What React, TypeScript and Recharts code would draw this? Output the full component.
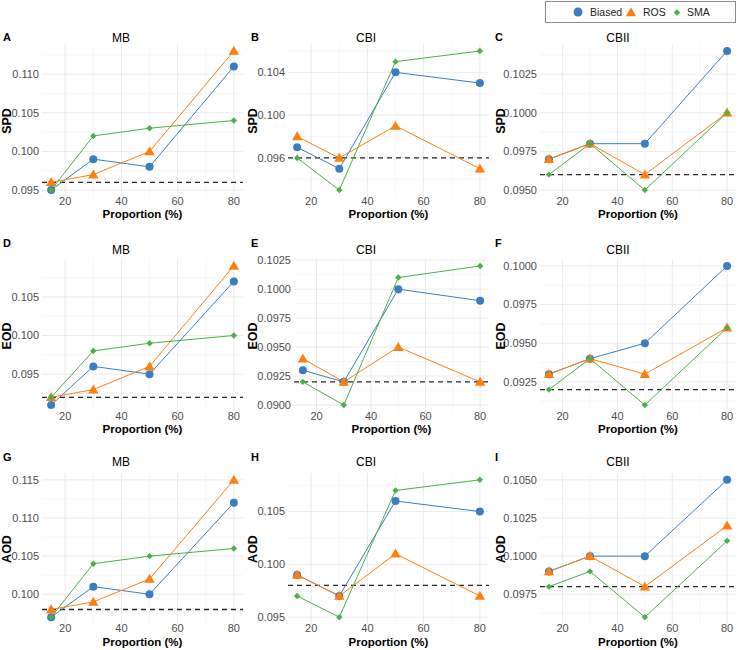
import React from "react";
import { CartesianGrid, Line, LineChart, ReferenceLine, XAxis, YAxis } from "recharts";

const proportions = [15, 30, 50, 80];
const datasets = ["MB", "CBI", "CBII"];
const metrics = ["SPD", "EOD", "AOD"];
const panelLetters = [
  ["A", "B", "C"],
  ["D", "E", "F"],
  ["G", "H", "I"],
];
const methods = ["Biased", "ROS", "SMA"];

// each array: one row per dataset (MB, CBI, CBII), one value per proportion
const spdBiased = [
  [0.095, 0.099, 0.098, 0.111],
  [0.097, 0.095, 0.104, 0.103],
  [0.097, 0.098, 0.098, 0.104],
];
const spdRos = [
  [0.096, 0.097, 0.1, 0.113],
  [0.098, 0.096, 0.099, 0.095],
  [0.097, 0.098, 0.096, 0.1],
];
const spdSma = [
  [0.095, 0.102, 0.103, 0.104],
  [0.096, 0.093, 0.105, 0.106],
  [0.096, 0.098, 0.095, 0.1],
];
const eodBiased = [
  [0.091, 0.096, 0.095, 0.107],
  [0.093, 0.092, 0.1, 0.099],
  [0.093, 0.094, 0.095, 0.1],
];
const eodRos = [
  [0.092, 0.093, 0.096, 0.109],
  [0.094, 0.092, 0.095, 0.092],
  [0.093, 0.094, 0.093, 0.096],
];
const eodSma = [
  [0.092, 0.098, 0.099, 0.1],
  [0.092, 0.09, 0.101, 0.102],
  [0.092, 0.094, 0.091, 0.096],
];
const aodBiased = [
  [0.097, 0.101, 0.1, 0.112],
  [0.099, 0.097, 0.106, 0.105],
  [0.099, 0.1, 0.1, 0.105],
];
const aodRos = [
  [0.098, 0.099, 0.102, 0.115],
  [0.099, 0.097, 0.101, 0.097],
  [0.099, 0.1, 0.098, 0.102],
];
const aodSma = [
  [0.097, 0.104, 0.105, 0.106],
  [0.097, 0.095, 0.107, 0.108],
  [0.098, 0.099, 0.096, 0.101],
];
const baselines = [0.096, 0.092, 0.098];

const spdTicks = [
  [0.095, 0.1, 0.105, 0.11],
  [0.096, 0.1, 0.104],
  [0.095, 0.0975, 0.1, 0.1025],
];
const eodTicks = [
  [0.095, 0.1, 0.105],
  [0.09, 0.0925, 0.095, 0.0975, 0.1, 0.1025],
  [0.0925, 0.095, 0.0975, 0.1],
];
const aodTicks = [
  [0.1, 0.105, 0.11, 0.115],
  [0.095, 0.1, 0.105],
  [0.0975, 0.1, 0.1025, 0.105],
];
const xTicks = [20, 40, 60, 80];

const metricSeries = [
  [spdBiased, spdRos, spdSma],
  [eodBiased, eodRos, eodSma],
  [aodBiased, aodRos, aodSma],
];
const metricTicks = [spdTicks, eodTicks, aodTicks];

const COLORS: Record<string, string> = { Biased: "#3A7EBF", ROS: "#FF7F0E", SMA: "#4DAF4A" };
const FONT = "'Liberation Sans', Arial, sans-serif";

// layout (px)
const colLeft = [0, 246, 492];
const colWidth = 246;
const plotRight = [243, 489, 736];
const rowTop = [0, 214, 428];
const rowHeight = 214;
const plotTop = [44, 259, 473];
const plotBottom = [197, 412, 624];
const letterX = [3, 251, 495];
const letterY = [37, 243, 457];
const titleX = [121, 366, 618];
const titleY = [38, 250, 462];
const yLabelX = [7, 253, 501];
const xLabelY = [215, 430, 643];
const X_DOMAIN = [11.75, 83.25];

function minorBreaks(ticks: number[], lo: number, hi: number) {
  const step = ticks[1] - ticks[0];
  const out: number[] = [];
  for (let i = -1; i < ticks.length; i++) {
    const m = ticks[0] + (i + 0.5) * step;
    if (m > lo && m < hi) out.push(m);
  }
  return out;
}

function shapePath(method: string, cx: number, cy: number) {
  if (method === "ROS") {
    return `M${cx},${cy - 5.2} L${cx + 5.2},${cy + 3.8} L${cx - 5.2},${cy + 3.8} Z`;
  }
  const d = 3.2;
  return `M${cx},${cy - d} L${cx + d},${cy} L${cx},${cy + d} L${cx - d},${cy} Z`;
}

function makeDot(method: string) {
  return (props: any) => {
    const { cx, cy, index } = props;
    const key = `${method}-${index}`;
    if (cx == null || cy == null) return <g key={key} />;
    if (method === "Biased") return <circle key={key} cx={cx} cy={cy} r={4} fill={COLORS.Biased} />;
    return <path key={key} d={shapePath(method, cx, cy)} fill={COLORS[method]} />;
  };
}

const abs = (x: number, y: number, extra: React.CSSProperties = {}): React.CSSProperties => ({
  position: "absolute",
  left: x,
  top: y,
  whiteSpace: "nowrap",
  lineHeight: 1,
  fontFamily: FONT,
  ...extra,
});

function Panel({ row, col }: { row: number; col: number }) {
  const [b, r, s] = metricSeries[row].map((m) => m[col]);
  const ticks = metricTicks[row][col];
  const baseline = baselines[row];
  const data = proportions.map((p, i) => ({ x: p, Biased: b[i], ROS: r[i], SMA: s[i] }));

  const vals = [...b, ...r, ...s, baseline];
  const lo = Math.min(...vals);
  const hi = Math.max(...vals);
  const pad = (hi - lo) * 0.05;
  const domain = [lo - pad, hi + pad];
  const digits = ticks.some((t) => Math.abs(Math.round(t * 1000) - t * 1000) > 1e-6) ? 4 : 3;

  const left = colLeft[col];
  const pLeft = left + (digits === 4 ? 48 : 42);
  const pRight = plotRight[col];
  const top = rowTop[row];
  const xAxisH = 12;

  return (
    <>
      <div style={{ position: "absolute", left, top }}>
        <LineChart
          width={colWidth}
          height={rowHeight}
          data={data}
          margin={{
            top: plotTop[row] - top,
            right: left + colWidth - pRight,
            bottom: top + rowHeight - plotBottom[row] - xAxisH,
            left: 0,
          }}
        >
          <CartesianGrid
            stroke="#F3F3F3"
            strokeWidth={0.7}
            horizontalValues={minorBreaks(ticks, domain[0], domain[1])}
            verticalValues={minorBreaks(xTicks, X_DOMAIN[0], X_DOMAIN[1])}
          />
          <CartesianGrid stroke="#EBEBEB" strokeWidth={1} horizontalValues={ticks} verticalValues={xTicks} />
          <XAxis
            type="number"
            dataKey="x"
            domain={X_DOMAIN}
            ticks={xTicks}
            allowDataOverflow
            axisLine={false}
            tickLine={false}
            tickSize={0}
            tickMargin={0}
            height={xAxisH}
            tick={{ fill: "#4D4D4D", fontSize: 11, fontFamily: FONT }}
          />
          <YAxis
            type="number"
            domain={domain}
            ticks={ticks}
            allowDataOverflow
            width={pLeft - left}
            axisLine={false}
            tickLine={false}
            tickSize={0}
            tickMargin={3}
            tickFormatter={(v: number) => v.toFixed(digits)}
            tick={{ fill: "#4D4D4D", fontSize: 11, fontFamily: FONT }}
          />
          <ReferenceLine y={baseline} stroke="#262626" strokeWidth={1.3} strokeDasharray="5 4" />
          {methods.map((m) => (
            <Line
              key={m}
              type="linear"
              dataKey={m}
              stroke={COLORS[m]}
              strokeWidth={1}
              dot={makeDot(m)}
              activeDot={false}
              isAnimationActive={false}
            />
          ))}
        </LineChart>
      </div>
      <div style={abs(letterX[col], letterY[row], { transform: "translateY(-50%)", fontWeight: 700, fontSize: 11 })}>
        {panelLetters[row][col]}
      </div>
      <div style={abs(titleX[col], titleY[row], { transform: "translate(-50%,-50%)", fontSize: 12 })}>
        {datasets[col]}
      </div>
      <div
        style={abs(yLabelX[col], (plotTop[row] + plotBottom[row]) / 2, {
          transform: "translate(-50%,-50%) rotate(-90deg)",
          fontWeight: 700,
          fontSize: 12.5,
        })}
      >
        {metrics[row]}
      </div>
      <div
        style={abs((pLeft + pRight) / 2, xLabelY[row], {
          transform: "translate(-50%,-50%)",
          fontWeight: 700,
          fontSize: 11.5,
        })}
      >
        Proportion (%)
      </div>
    </>
  );
}

function LegendBox() {
  const items = [
    { m: "Biased", sx: 33, tx: 45 },
    { m: "ROS", sx: 86, tx: 98 },
    { m: "SMA", sx: 132, tx: 142 },
  ];
  return (
    <svg width={191} height={22} style={{ position: "absolute", left: 545, top: 1 }}>
      <rect x={0.5} y={0.5} width={190} height={21} fill="#fff" stroke="#8C8C8C" strokeWidth={1} />
      {items.map(({ m, sx, tx }) => (
        <g key={m}>
          {m === "Biased" ? (
            <circle cx={sx} cy={11} r={4.5} fill={COLORS.Biased} />
          ) : (
            <path d={shapePath(m, sx, 11.5)} fill={COLORS[m]} />
          )}
          <text x={tx} y={15} fontSize={10.5} fontFamily={FONT} fill="#222">
            {m}
          </text>
        </g>
      ))}
    </svg>
  );
}

export default function App() {
  return (
    <div style={{ position: "absolute", left: 0, top: 0, width: 738, height: 650, background: "#fff" }}>
      <LegendBox />
      {[0, 1, 2].map((row) => [0, 1, 2].map((col) => <Panel key={`${row}-${col}`} row={row} col={col} />))}
    </div>
  );
}
